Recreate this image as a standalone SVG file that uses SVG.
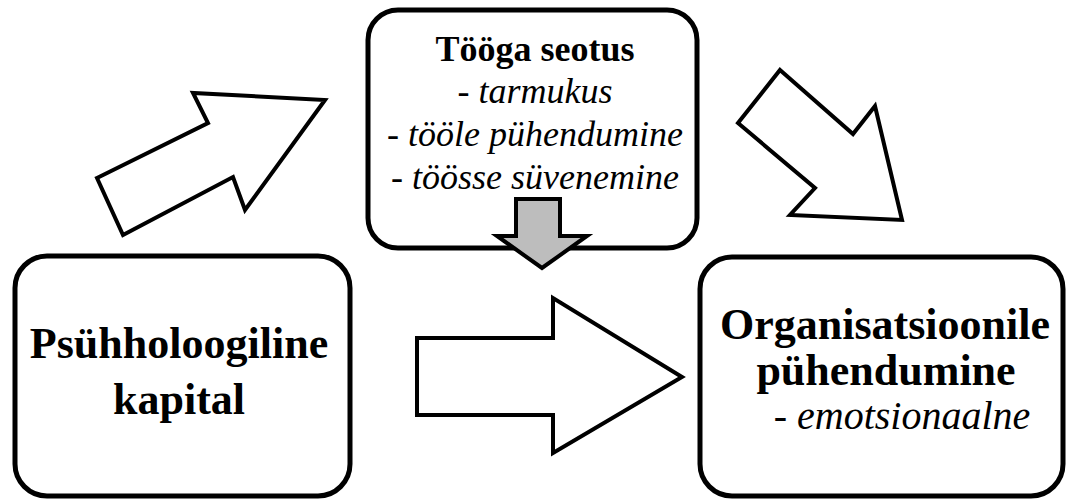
<svg xmlns="http://www.w3.org/2000/svg" width="1066" height="499" viewBox="0 0 1066 499">
  <style>
    .box { fill: #ffffff; stroke: #000000; stroke-width: 5; }
    .arrow { fill: #ffffff; stroke: #000000; stroke-width: 4; stroke-linejoin: miter; }
    .arrow-gray { fill: #bdbdbd; stroke: #000000; stroke-width: 4; stroke-linejoin: miter; }
    .title { font-family: "Liberation Serif", "Times New Roman", serif; font-weight: bold; fill: #000000; text-anchor: middle; }
    .item { font-family: "Liberation Serif", "Times New Roman", serif; font-style: italic; fill: #000000; text-anchor: middle; }
  </style>
  <rect width="1066" height="499" fill="#ffffff"/>

  <!-- block arrows between the three concepts -->
  <g id="connectors">
    <polygon class="arrow" points="97,178 208,123 193,93 325,100 245,210 233,177 123,235"/>
    <polygon class="arrow" points="780,70 853,134 875,106 902,220 790,215 815,188 738,123"/>
    <polygon class="arrow" points="417,338 553,338 553,298 682,377 553,453 553,415 417,415"/>
  </g>

  <g id="node-too-seotus">
    <rect class="box" x="368" y="10" width="329" height="238" rx="30" ry="30"/>
    <text class="title" x="535" y="61" font-size="36">Tööga seotus</text>
    <text class="item" x="535" y="103" font-size="36">- tarmukus</text>
    <text class="item" x="535" y="146" font-size="36">- tööle pühendumine</text>
    <text class="item" x="535" y="189" font-size="36">- töösse süvenemine</text>
  </g>

  <!-- grey arrow pointing down out of the upper box -->
  <g id="connector-down">
    <polygon class="arrow-gray" points="516,199 560,199 560,236 587,236 542,268 497,236 516,236"/>
  </g>

  <g id="node-psyhholoogiline-kapital">
    <rect class="box" x="15" y="256" width="335" height="240" rx="32" ry="32"/>
    <text class="title" x="179" y="358" font-size="44">Psühholoogiline</text>
    <text class="title" x="179" y="414" font-size="44">kapital</text>
  </g>

  <g id="node-organisatsioonile">
    <rect class="box" x="700" y="257" width="363" height="239" rx="32" ry="32"/>
    <text class="title" x="885" y="339" font-size="44">Organisatsioonile</text>
    <text class="title" x="886" y="385" font-size="44">pühendumine</text>
    <text class="item" x="902" y="429" font-size="40">- emotsionaalne</text>
  </g>
</svg>
